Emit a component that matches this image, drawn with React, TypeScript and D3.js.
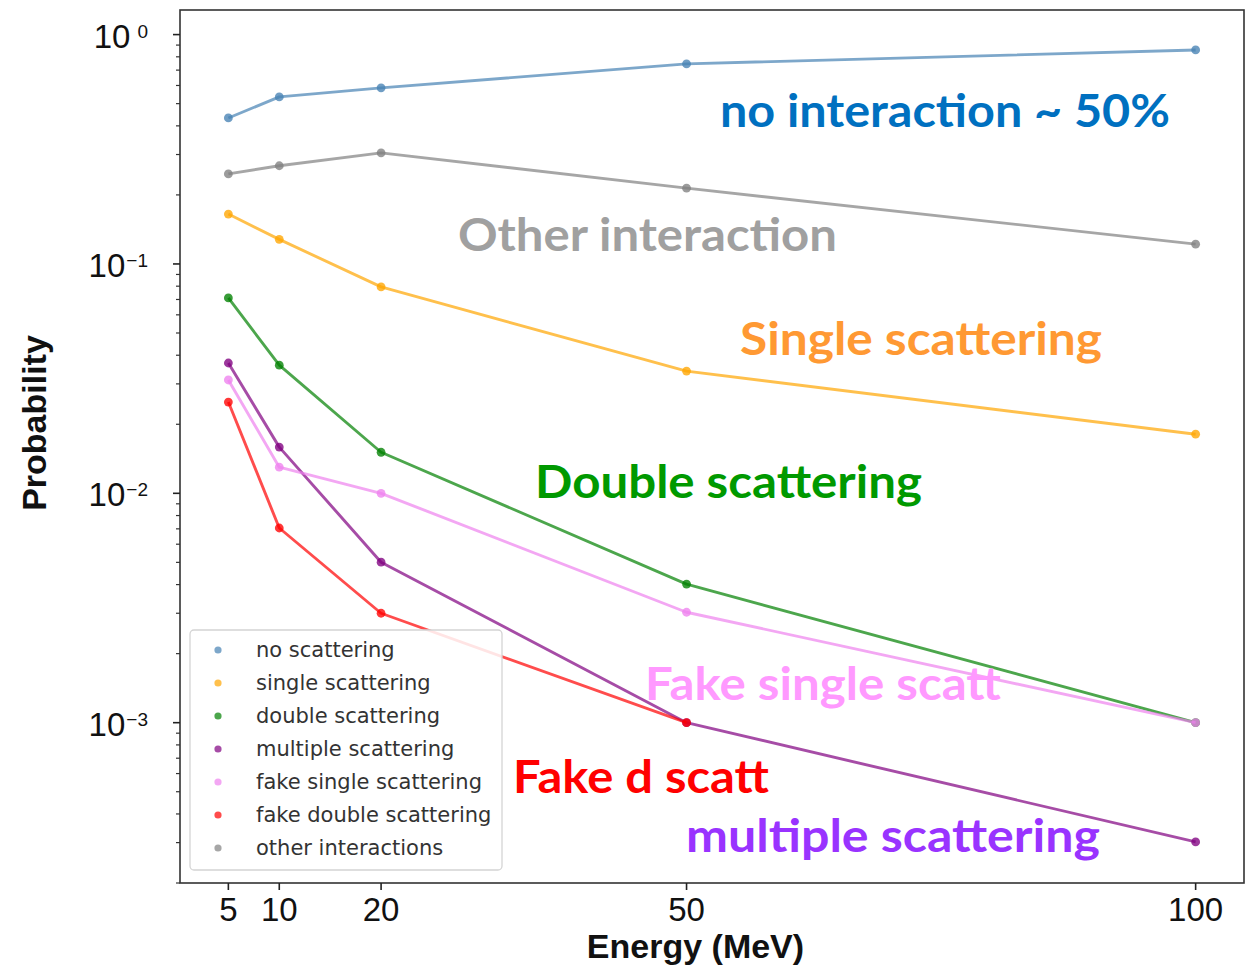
import React from "react";
import * as d3 from "d3";

const energies = [5, 10, 20, 50, 100];
const noScattering = [0.433, 0.535, 0.586, 0.745, 0.857];
const singleScattering = [0.165, 0.128, 0.0794, 0.0341, 0.0181];
const doubleScattering = [0.0711, 0.0362, 0.0151, 0.00402, 0.001];
const multipleScattering = [0.037, 0.0159, 0.00501, 0.001, 0.000302];
const fakeSingleScattering = [0.0312, 0.013, 0.01, 0.00303, 0.001];
const fakeDoubleScattering = [0.025, 0.00706, 0.003, 0.001];
const otherInteractions = [0.247, 0.268, 0.305, 0.214, 0.122];

const seriesNames = [
  "no scattering",
  "single scattering",
  "double scattering",
  "multiple scattering",
  "fake single scattering",
  "fake double scattering",
  "other interactions",
];
const seriesValues = [
  noScattering,
  singleScattering,
  doubleScattering,
  multipleScattering,
  fakeSingleScattering,
  fakeDoubleScattering,
  otherInteractions,
];
const seriesColors = ["#4682b4", "#ffa500", "#008000", "#800080", "#ee82ee", "#ff0000", "#808080"];

const xTicks = [5, 10, 20, 50, 100];
const yMajorExps = [0, -1, -2, -3];

const annotations = [
  { text: "no interaction ~ 50%", color: "#0070c0" },
  { text: "Other interaction", color: "#a0a0a0" },
  { text: "Single scattering", color: "#ff9933" },
  { text: "Double scattering", color: "#009900" },
  { text: "Fake single scatt", color: "#ff99ff" },
  { text: "Fake d scatt", color: "#ff0000" },
  { text: "multiple scattering", color: "#9933ff" },
];
// layout for annotations: [x, baseline y, width]
const annotationLayout = [
  [720, 127, 450],
  [458, 251, 379],
  [740, 355, 362],
  [535, 498, 387],
  [645, 700, 356],
  [513, 793, 256],
  [686, 852, 414],
];

const W = 1255;
const H = 967;
const L = 180, R = 1244, T = 10, B = 883;

export default function App() {
  const x = d3.scaleLinear().domain([0.25, 104.75]).range([L, R]);
  const y = d3.scaleLog().domain([2.0e-4, 1.28]).range([B, T]);

  const line = d3
    .line<[number, number]>()
    .x((d) => x(d[0]))
    .y((d) => y(d[1]));

  const minorTicks: number[] = [];
  for (let e = -4; e <= 0; e++) {
    for (let m = 2; m <= 9; m++) {
      const v = m * Math.pow(10, e);
      if (v >= 2.0e-4 && v <= 1.28) minorTicks.push(v);
    }
  }
  const tickFont = "'Liberation Sans', Arial, sans-serif";

  return (
    <svg width={W} height={H} style={{ display: "block", position: "absolute", left: 0, top: 0 }}>
      <rect x={0} y={0} width={W} height={H} fill="#fff" />
      {/* series */}
      {seriesValues.map((vals, i) => {
        const pts = vals.map((v, j) => [energies[j], v] as [number, number]);
        return (
          <g key={i}>
            <path d={line(pts) || ""} fill="none" stroke={seriesColors[i]} strokeWidth={2.9} strokeOpacity={0.7} strokeLinejoin="round" />
            {pts.map((p, j) => (
              <circle key={j} cx={x(p[0])} cy={y(p[1])} r={4.4} fill={seriesColors[i]} fillOpacity={0.78} />
            ))}
          </g>
        );
      })}
      {/* frame */}
      <rect x={L} y={T} width={R - L} height={B - T} fill="none" stroke="#333" strokeWidth={1.6} />
      {/* y ticks */}
      {minorTicks.map((v, i) => (
        <line key={"m" + i} x1={L - 4} x2={L} y1={y(v)} y2={y(v)} stroke="#333" strokeWidth={1.2} />
      ))}
      {yMajorExps.map((e) => {
        const yy = y(Math.pow(10, e));
        return (
          <g key={"y" + e}>
            <line x1={L - 7} x2={L} y1={yy} y2={yy} stroke="#222" strokeWidth={1.6} />
            <text x={148} y={yy + 13} textAnchor="end" fontFamily={tickFont} fontSize={33} fill="#111">
              10
              <tspan dx={e === 0 ? 7 : 1} dy={-10} fontSize={19}>
                {e === 0 ? "0" : "\u2212" + String(-e)}
              </tspan>
            </text>
          </g>
        );
      })}
      {/* x ticks */}
      {xTicks.map((t) => (
        <g key={"x" + t}>
          <line x1={x(t)} x2={x(t)} y1={B} y2={B + 7} stroke="#222" strokeWidth={1.6} />
          <text x={x(t)} y={921} textAnchor="middle" fontFamily={tickFont} fontSize={33} fill="#111">
            {t}
          </text>
        </g>
      ))}
      {/* axis labels */}
      <text x={(585 + 806) / 2} y={958} textAnchor="middle" fontFamily={tickFont} fontSize={34} fontWeight="bold" fill="#111">
        Energy (MeV)
      </text>
      <text
        transform={`translate(46, 423) rotate(-90)`}
        textAnchor="middle"
        fontFamily={tickFont}
        fontSize={34}
        fontWeight="bold"
        fill="#111"
      >
        Probability
      </text>
      {/* legend */}
      <g>
        <rect x={190} y={630} width={312} height={240} rx={4} fill="#fff" fillOpacity={0.85} stroke="#d4d4d4" strokeWidth={1.3} />
        {seriesNames.map((n, i) => {
          const yy = 650 + 33 * i;
          return (
            <g key={n}>
              <circle cx={218} cy={yy} r={3.6} fill={seriesColors[i]} fillOpacity={0.7} />
              <text x={256} y={yy + 6.5} fontFamily="'DejaVu Sans', sans-serif" fontSize={21} fill="#333">
                {n}
              </text>
            </g>
          );
        })}
      </g>
      {/* annotations */}
      {annotations.map((a, i) => {
        const [ax, ay, aw] = annotationLayout[i];
        return (
          <text
            key={a.text}
            x={ax}
            y={ay}
            fontFamily="Lato, 'Open Sans', sans-serif"
            fontWeight="bold"
            fontSize={45}
            fill={a.color}
            textLength={aw}
            lengthAdjust="spacingAndGlyphs"
          >
            {a.text}
          </text>
        );
      })}
    </svg>
  );
}
